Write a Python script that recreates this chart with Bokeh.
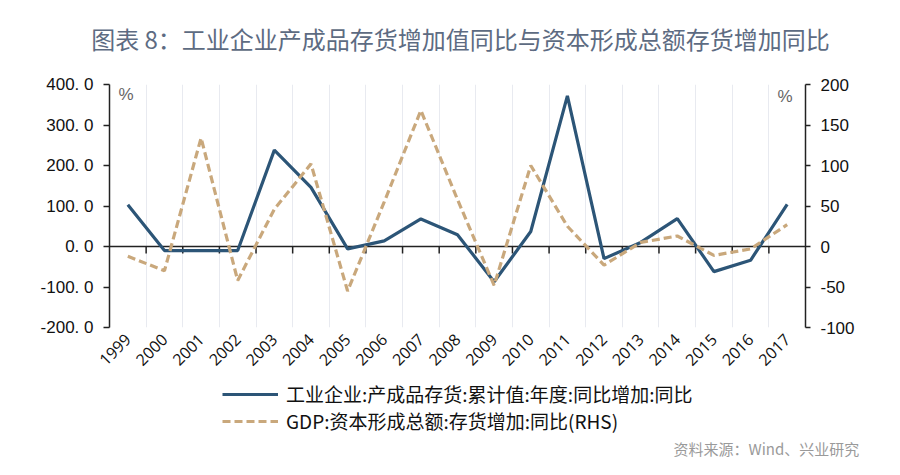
import math
import numpy as np
from bokeh.plotting import figure
from bokeh.layouts import column
from bokeh.models import (LinearAxis, Range1d, FixedTicker, Span, Label,
                          Legend, LegendItem, ColumnDataSource)
from bokeh.core.properties import value
from bokeh.embed import file_html
from bokeh.resources import INLINE

# ---------------- data ----------------
years = ["1999", "2000", "2001", "2002", "2003", "2004", "2005", "2006", "2007",
         "2008", "2009", "2010", "2011", "2012", "2013", "2014", "2015", "2016", "2017"]
industry_inventory = [103, -10, -10, -10, 238, 146, -6, 14, 68, 29, -87, 37, 372,
                      -30, 10, 69, -62, -34, 104]
gdp_inventory = [-12, -30, 134, -42, 46, 102, -55, 55, 168, 58, -48, 100, 25,
                 -23, 5, 13, -11, -3, 27]
left_ticks = [-200, -100, 0, 100, 200, 300, 400]
left_labels = ["-200. 0", "-100. 0", "0. 0", "100. 0", "200. 0", "300. 0", "400. 0"]
right_ticks = [-100, -50, 0, 50, 100, 150, 200]
right_labels = ["-100", "-50", "0", "50", "100", "150", "200"]
series_names = ["工业企业:产成品存货:累计值:年度:同比增加:同比",
                "GDP:资本形成总额:存货增加:同比(RHS)"]
title_text = "图表 8：工业企业产成品存货增加值同比与资本形成总额存货增加同比"
source_text = "资料来源：Wind、兴业研究"

BLUE = "#2c5577"
TAN = "#c9a87c"
AXIS = "#222222"
W = 884
H_HEAD, H_MAIN = 60, 315
H_FOOT = 459 - H_HEAD - H_MAIN

xs = np.arange(len(years))
bounds = xs[:-1] + 0.5


def blank(h):
    f = figure(width=W, height=h, output_backend="svg", toolbar_location=None,
               x_range=Range1d(0, W), y_range=Range1d(0, h),
               min_border=0, title=None, frame_align=False)
    f.axis.visible = False
    f.grid.visible = False
    f.outline_line_color = None
    f.background_fill_color = "white"
    f.border_fill_color = "white"
    return f


# ---------------- header ----------------
head = blank(H_HEAD)
head.text(x=[460], y=[H_HEAD - 38], text=[title_text], text_align="center",
          text_baseline="middle", text_font=value("Noto Sans CJK SC"),
          text_font_size="24px", text_color="#5d6b82")

# ---------------- main chart ----------------
src = ColumnDataSource(dict(x=xs, a=industry_inventory, b=gdp_inventory))

p = figure(width=W, height=H_MAIN, output_backend="svg", toolbar_location=None,
           title=None, frame_align=False,
           x_range=Range1d(-0.5, len(years) - 0.5),
           y_range=Range1d(left_ticks[0], left_ticks[-1]),
           min_border_left=109, min_border_right=79,
           min_border_top=84 - H_HEAD, min_border_bottom=H_HEAD + H_MAIN - 327)
p.extra_y_ranges = {"rhs": Range1d(right_ticks[0], right_ticks[-1])}
p.outline_line_color = None
p.background_fill_color = "white"
p.border_fill_color = "white"

p.xgrid.ticker = FixedTicker(ticks=list(bounds))
p.xgrid.grid_line_color = "#e8eaf0"
p.xgrid.grid_line_width = 1
p.ygrid.grid_line_color = None

xa = p.xaxis[0]
xa.ticker = FixedTicker(ticks=list(xs))
xa.major_label_overrides = {int(i): y for i, y in zip(xs, years)}
xa.major_label_orientation = math.pi / 4
xa.axis_line_color = None
xa.major_tick_line_color = None
xa.minor_tick_line_color = None
xa.major_label_text_font = "Open Sans"
xa.major_label_text_font_size = "16px"
xa.major_label_text_color = "#111111"
xa.major_label_standoff = 3

ya = p.yaxis[0]
ya.ticker = FixedTicker(ticks=left_ticks)
ya.major_label_overrides = {t: s for t, s in zip(left_ticks, left_labels)}
ya.minor_tick_line_color = None
ya.major_tick_in = 0
ya.major_tick_out = 6
ya.axis_line_color = AXIS
ya.axis_line_width = 1.5
ya.major_tick_line_color = AXIS
ya.major_tick_line_width = 1.5
ya.major_label_text_font = "Liberation Sans"
ya.major_label_text_font_size = "17px"
ya.major_label_text_color = "#111111"
ya.major_label_standoff = 10

ra = LinearAxis(y_range_name="rhs", ticker=FixedTicker(ticks=right_ticks))
ra.major_label_overrides = {t: s for t, s in zip(right_ticks, right_labels)}
ra.minor_tick_line_color = None
ra.major_tick_in = 0
ra.major_tick_out = 5
ra.axis_line_color = AXIS
ra.axis_line_width = 1.5
ra.major_tick_line_color = AXIS
ra.major_tick_line_width = 1.5
ra.major_label_text_font = "Liberation Sans"
ra.major_label_text_font_size = "17px"
ra.major_label_text_color = "#111111"
ra.major_label_standoff = 10
p.add_layout(ra, "right")

zero = Span(location=0, dimension="width", line_color=AXIS, line_width=1.5,
            level="underlay")
p.add_layout(zero)
p.segment(x0=bounds, y0=np.zeros(len(bounds)), x1=bounds,
          y1=np.full(len(bounds), -17.0), line_color=AXIS, line_width=1.5)

p.line("x", "a", source=src, line_color=BLUE, line_width=3.2)
p.line("x", "b", source=src, y_range_name="rhs", line_color=TAN,
       line_width=3.2, line_dash="8 4")

p.add_layout(Label(x=9, y=233, x_units="screen", y_units="screen", text="%",
                   text_align="left", text_baseline="middle",
                   text_font="Liberation Sans", text_font_size="17px",
                   text_color="#666666"))
p.add_layout(Label(x=668, y=231, x_units="screen", y_units="screen", text="%",
                   text_align="left", text_baseline="middle",
                   text_font="Liberation Sans", text_font_size="17px",
                   text_color="#666666"))

# ---------------- footer: legend + source ----------------
foot = blank(H_FOOT)
# legend keys: drawn off-frame so only their legend swatches show
k1 = foot.line(x=[-20, -10], y=[-20, -20], line_color=BLUE, line_width=3.2)
k2 = foot.line(x=[-20, -10], y=[-20, -20], line_color=TAN, line_width=3.2,
               line_dash="8 4")
legend = Legend(items=[LegendItem(label=series_names[0], renderers=[k1]),
                       LegendItem(label=series_names[1], renderers=[k2])],
                location=(222, 25))
legend.border_line_color = None
legend.background_fill_alpha = 0
legend.padding = 0
legend.margin = 0
legend.spacing = 0
legend.glyph_width = 56
legend.glyph_height = 20
legend.label_height = 20
legend.label_standoff = 8
legend.label_text_font = "Noto Sans CJK SC"
legend.label_text_font_size = "19px"
legend.label_text_color = "#111111"
foot.add_layout(legend)

foot.text(x=[673], y=[H_FOOT - (448 - H_HEAD - H_MAIN)], text=[source_text],
          text_align="left", text_baseline="middle",
          text_font=value("Noto Sans CJK SC"), text_font_size="15px",
          text_color="#9a9a9a")

layout = column(head, p, foot, spacing=0)
open("out.html", "w").write(file_html(layout, INLINE))
